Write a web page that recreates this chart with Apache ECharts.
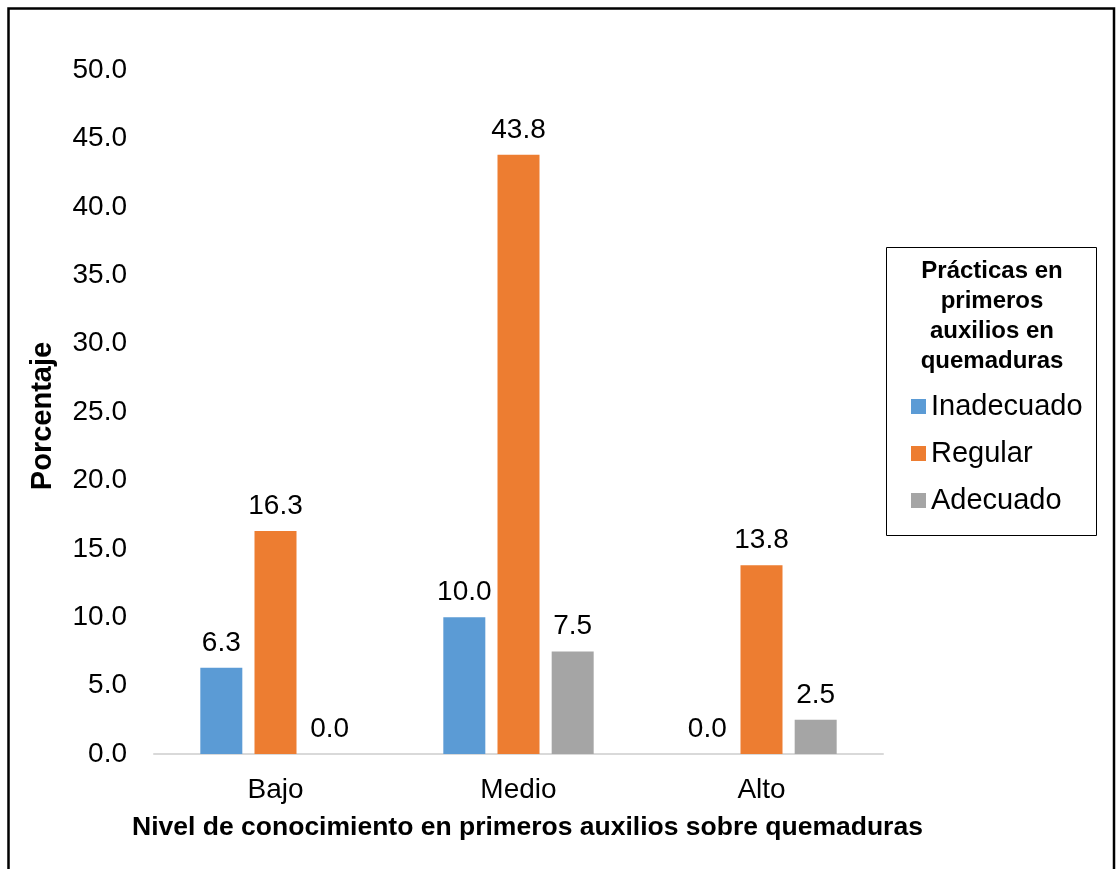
<!DOCTYPE html>
<html>
<head>
<meta charset="utf-8">
<style>
  html, body { margin: 0; padding: 0; background: #ffffff; }
  #chart { width: 1119px; height: 869px; }
</style>
<script src="https://cdn.jsdelivr.net/npm/echarts@6/dist/echarts.min.js"></script>
</head>
<body>
<div id="chart"></div>
<script>
// Knowledge levels on the x axis
const categories = ['Bajo', 'Medio', 'Alto'];

// Percentages per first-aid practice group
const inadecuado = [6.3, 10.0, 0.0];
const regular = [16.3, 43.8, 13.8];
const adecuado = [0.0, 7.5, 2.5];

const seriesNames = ['Inadecuado', 'Regular', 'Adecuado'];
const seriesColors = ['#5B9BD5', '#ED7D31', '#A5A5A5'];

const legendTitle = 'Prácticas en\nprimeros\nauxilios en\nquemaduras';
const xTitle = 'Nivel de conocimiento en primeros auxilios sobre quemaduras';
const yTitle = 'Porcentaje';

const FONT = '"Liberation Sans", Arial, sans-serif';

const chart = echarts.init(document.getElementById('chart'), null, { renderer: 'canvas' });

function barSeries(name, data, color) {
  return {
    name: name,
    type: 'bar',
    data: data,
    barWidth: 42,
    barGap: '29%',
    itemStyle: { color: color },
    label: {
      show: true,
      position: 'top',
      distance: 11,
      color: '#000',
      fontFamily: FONT,
      fontSize: 28,
      formatter: p => p.value.toFixed(1)
    }
  };
}

chart.setOption({
  animation: false,
  backgroundColor: '#ffffff',
  grid: { left: 154, right: 236, top: 70, bottom: 115, containLabel: false },
  xAxis: {
    type: 'category',
    data: categories,
    name: xTitle,
    nameLocation: 'middle',
    nameGap: 60,
    nameTextStyle: {
      fontFamily: FONT, fontSize: 26.5, fontWeight: 'bold', color: '#000',
      padding: [0, 0, 0, 18]
    },
    axisLine: { show: true, lineStyle: { color: '#d9d9d9', width: 2 } },
    axisTick: { show: false },
    axisLabel: { color: '#000', fontFamily: FONT, fontSize: 28, margin: 22 }
  },
  yAxis: {
    type: 'value',
    min: 0,
    max: 50,
    interval: 5,
    name: yTitle,
    nameLocation: 'middle',
    nameRotate: 90,
    nameGap: 97,
    nameTextStyle: { fontFamily: FONT, fontSize: 29, fontWeight: 'bold', color: '#000', padding: [0, 8, 0, 0] },
    axisLine: { show: false },
    axisTick: { show: false },
    splitLine: { show: false },
    axisLabel: {
      color: '#000', fontFamily: FONT, fontSize: 28, margin: 27,
      formatter: v => v.toFixed(1)
    }
  },
  legend: {
    orient: 'vertical',
    left: 911,
    top: 392,
    padding: 0,
    itemWidth: 15,
    itemHeight: 15,
    itemGap: 18,
    icon: 'rect',
    data: seriesNames,
    textStyle: { color: '#000', fontFamily: FONT, fontSize: 29 }
  },
  graphic: [
    {
      type: 'rect',
      shape: { x: 8.5, y: 8.5, width: 1105.5, height: 900 },
      style: { fill: null, stroke: '#000', lineWidth: 2.5 },
      silent: true
    },
    {
      type: 'rect',
      shape: { x: 886.5, y: 247.5, width: 210, height: 288 },
      style: { fill: null, stroke: '#000', lineWidth: 1 },
      silent: true
    },
    {
      type: 'text',
      x: 992,
      y: 256,
      style: {
        text: legendTitle,
        fill: '#000',
        font: 'bold 24px ' + FONT,
        lineHeight: 30,
        textAlign: 'center',
        textVerticalAlign: 'top'
      },
      silent: true
    }
  ],
  series: [
    barSeries(seriesNames[0], inadecuado, seriesColors[0]),
    barSeries(seriesNames[1], regular, seriesColors[1]),
    barSeries(seriesNames[2], adecuado, seriesColors[2])
  ]
});
</script>
</body>
</html>
